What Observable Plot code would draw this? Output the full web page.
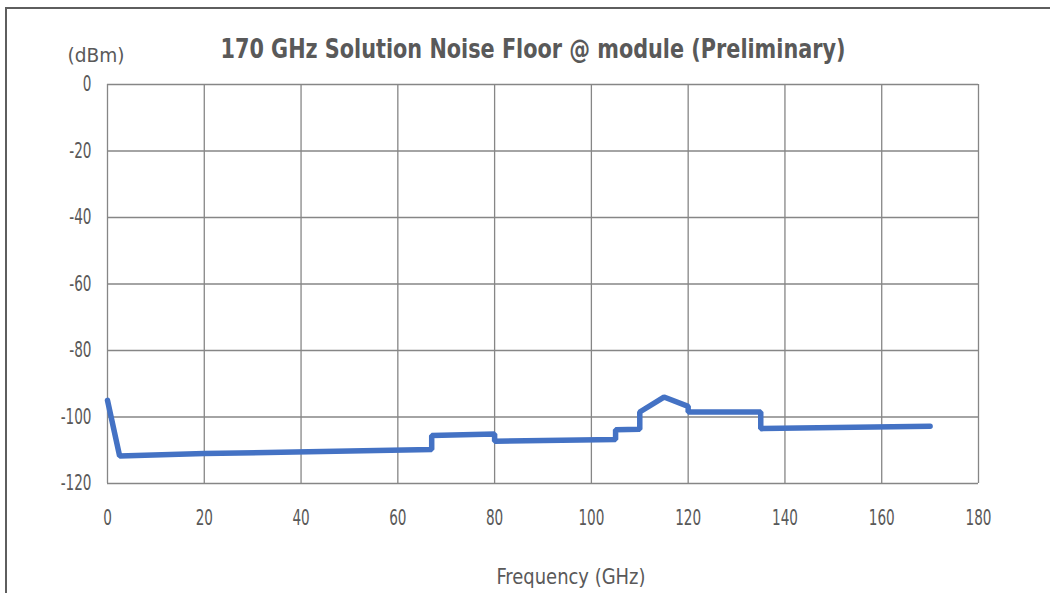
<!DOCTYPE html>
<html><head><meta charset="utf-8">
<script src="https://cdn.jsdelivr.net/npm/d3@7"></script>
<script src="https://cdn.jsdelivr.net/npm/@observablehq/plot@0.6"></script>
<style>
body{margin:0;background:#fff;}
#wrap{position:relative;width:1050px;height:593px;overflow:hidden;font-family:"Liberation Sans Narrow","DejaVu Sans Condensed","Roboto",sans-serif;color:#595959;}
#frame{position:absolute;left:5px;top:7px;width:1100px;height:700px;border-left:2px solid #5e5e5e;border-top:2px solid #5e5e5e;}
.lab{position:absolute;white-space:nowrap;transform:translate(-50%,-50%);line-height:1;}
#chart{position:absolute;left:0;top:0;}
</style></head>
<body>
<div id="wrap">
  <div id="frame"></div>
  <div id="chart"></div>
  <div class="lab" id="title" style="left:533px;top:48px;font-size:27px;font-weight:bold;">170 GHz Solution Noise Floor @ module (Preliminary)</div>
  <div class="lab" id="unit" style="left:96px;top:55px;font-size:19px;">(dBm)</div>
  <div class="lab" id="xlab" style="left:571px;top:577px;font-size:21px;">Frequency (GHz)</div>
</div>
<script>
const freq = [0, 2.5, 20, 67, 67, 80, 80, 105, 105, 110, 110, 115, 120, 120, 135, 135, 170];
const dbm = [-95, -111.7, -111, -109.8, -105.6, -105.1, -107.3, -106.8, -103.8, -103.7, -98.5, -94, -96.8, -98.5, -98.5, -103.5, -102.8];
const xTicks = [0, 20, 40, 60, 80, 100, 120, 140, 160, 180];
const yTicks = [0, -20, -40, -60, -80, -100, -120];

const data = freq.map((f, i) => ({f, v: dbm[i]}));
const font = '"Liberation Sans Narrow","DejaVu Sans Condensed","Roboto",sans-serif';

const chart = Plot.plot({
  width: 1050, height: 593,
  marginLeft: 107, marginRight: 72, marginTop: 84, marginBottom: 110,
  style: {fontFamily: font, fontSize: "18px", color: "#595959", background: "transparent", overflow: "visible"},
  x: {domain: [0, 180], ticks: xTicks, label: null},
  y: {domain: [-120, 0], ticks: yTicks, label: null},
  marks: [
    Plot.gridX(xTicks, {stroke: "#868686", strokeOpacity: 1, strokeWidth: 1.3}),
    Plot.gridY(yTicks, {stroke: "#868686", strokeOpacity: 1, strokeWidth: 1.3}),
    Plot.axisX(xTicks, {tickSize: 0, tickPadding: 27, fill: "#595959", label: null, tickFormat: d => String(d)}),
    Plot.axisY(yTicks, {tickSize: 0, tickPadding: 16, fill: "#595959", label: null, tickFormat: d => String(d)}),
    Plot.line(data, {x: "f", y: "v", stroke: "#4472C4", strokeWidth: 5.5, strokeLinejoin: "miter", strokeLinecap: "round"})
  ]
});
document.getElementById("chart").appendChild(chart);

// tick labels: reference uses a larger, narrow face
d3.select(chart).selectAll('g[aria-label$="tick label"]').style("font-size", "21px");
d3.select(chart).selectAll('g[aria-label$="tick label"] text').each(function() {
  this.style.fontSize = "21px";
  const tr = this.getAttribute("transform") || "";
  this.setAttribute("transform", tr + " scale(0.72,1)");
});

// fit text widths to reference
function fit(id, target) {
  const el = document.getElementById(id);
  const w = el.getBoundingClientRect().width;
  el.style.transform = `translate(-50%,-50%) scaleX(${target / w})`;
}
fit("title", 625);
fit("unit", 57);
fit("xlab", 149);
</script>
</body></html>
